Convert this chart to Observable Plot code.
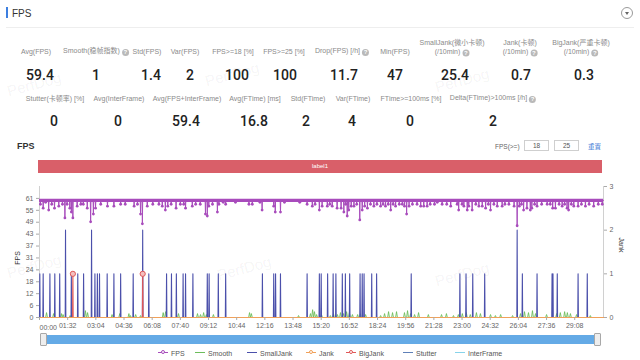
<!DOCTYPE html>
<html><head><meta charset="utf-8">
<script src="https://cdn.jsdelivr.net/npm/d3@7"></script>
<script src="https://cdn.jsdelivr.net/npm/@observablehq/plot@0.6"></script>
<style>
body{margin:0;background:#fff;}
#root{position:relative;width:640px;height:360px;overflow:hidden;font-family:"Liberation Sans","Noto Sans CJK SC",sans-serif;}
.abs{position:absolute;white-space:nowrap;}
.c{transform:translate(-50%,-50%);text-align:center;}
.lm{transform:translate(0,-50%);}
.lab{font-size:7px;color:#8a8a8a;line-height:9px;}
.val{font-size:14px;color:#222;font-family:Roboto,"Liberation Sans",sans-serif;font-weight:500;}
.help{display:inline-block;width:7px;height:7px;border-radius:50%;background:#b9b9b9;color:#fff;font-size:6px;line-height:7px;text-align:center;vertical-align:-1px;margin-left:2px;font-weight:bold;}
.wm{font-size:15px;color:rgba(0,0,0,0.055);transform:translate(-50%,-50%) rotate(-15deg);}
</style></head><body><div id="root"></div>
<script>
// ---------- data ----------
const statLabels1 = ["Avg(FPS)","Smooth(稳帧指数)","Std(FPS)","Var(FPS)","FPS>=18 [%]","FPS>=25 [%]","Drop(FPS) [/h]","Min(FPS)","SmallJank(微小卡顿)|(/10min)","Jank(卡顿)|(/10min)","BigJank(严重卡顿)|(/10min)"];
const statHelp1 = [false,true,false,false,false,false,true,false,true,true,true];
const statValues1 = ["59.4","1","1.4","2","100","100","11.7","47","25.4","0.7","0.3"];
const statLabels2 = ["Stutter(卡顿率) [%]","Avg(InterFrame)","Avg(FPS+InterFrame)","Avg(FTime) [ms]","Std(FTime)","Var(FTime)","FTime>=100ms [%]","Delta(FTime)>100ms [/h]"];
const statHelp2 = [false,false,false,false,false,false,false,true];
const statValues2 = ["0","0","59.4","16.8","2","4","0","2"];

const timeTickLabels = ["00:00","01:32","03:04","04:36","06:08","07:40","09:12","10:44","12:16","13:48","15:20","16:52","18:24","19:56","21:28","23:00","24:32","26:04","27:36","29:08"];
const duration = 1842; // seconds
const fpsTickLabels = [0,6,12,18,24,31,37,43,49,55,61];
const fpsTickStep = 6.1;
const jankTickLabels = [0,1,2,3];
const fpsBase = 60;

// FPS dips below the ~60 band: [second, fps]
const fpsDips = [[3,58],[12,56],[20,59],[30,55],[40,58],[49,56],[63,57],[75,58],[83,51],[90,58],[99,56],[104,54],[109,51],[123,57],[135,58],[143,58],[156,56],[167,49],[176,53],[183,56],[200,58],[222,57],[243,57],[265,58],[280,58],[309,57],[320,58],[330,53],[336,48],[352,57],[370,58],[390,58],[401,57],[411,55],[419,57],[430,58],[446,56],[460,58],[471,58],[477,56],[499,57],[510,58],[525,58],[542,53],[548,52],[553,57],[565,58],[581,54],[586,58],[600,59],[608,58],[640,59],[684,58],[695,58],[720,59],[727,55],[765,57],[770,54],[787,54],[800,59],[850,59],[874,58],[891,57],[900,58],[914,55],[923,57],[940,57],[948,58],[956,57],[972,56],[985,56],[994,54],[1000,58],[1005,52],[1010,55],[1018,57],[1027,57],[1036,58],[1046,50],[1054,55],[1062,57],[1071,56],[1081,58],[1092,57],[1102,58],[1114,57],[1122,58],[1130,57],[1139,58],[1147,55],[1155,58],[1163,57],[1175,58],[1185,58],[1192,57],[1199,53],[1207,57],[1218,58],[1233,58],[1245,57],[1255,57],[1266,57],[1276,58],[1290,58],[1299,59],[1315,58],[1330,58],[1343,57],[1364,58],[1369,55],[1380,58],[1386,57],[1397,55],[1402,57],[1413,55],[1425,58],[1435,57],[1446,57],[1457,56],[1466,58],[1473,55],[1484,58],[1495,57],[1511,57],[1520,58],[1533,58],[1550,57],[1560,47],[1567,57],[1574,58],[1581,55],[1592,56],[1603,55],[1608,56],[1617,58],[1625,57],[1640,58],[1658,58],[1668,58],[1676,56],[1685,56],[1697,58],[1707,57],[1715,58],[1723,56],[1728,55],[1737,58],[1745,57],[1759,57],[1770,58],[1783,57],[1795,58],[1810,57],[1825,58],[1838,58]];

// Smooth bumps: [second, value]
const smooth = [[23,2.5],[46,2],[72,2],[77,1.5],[100,1],[150,3.5],[157,2.5],[237,1.5],[262,2],[292,2],[297,1],[314,1.5],[330,1],[404,2.5],[412,3],[454,2],[516,2],[526,1.5],[536,2.5],[545,1.5],[568,1.5],[686,2.5],[692,2],[846,1],[885,2],[892,4],[898,3],[905,1.5],[921,1.5],[950,1],[960,2],[973,1.5],[983,2.5],[993,2],[1003,3],[1012,2.5],[1022,1.5],[1039,1.5],[1048,2],[1065,1.5],[1114,1],[1127,2],[1140,3],[1153,2.5],[1166,3],[1192,2.5],[1202,3.5],[1212,2],[1225,1.5],[1238,2.5],[1270,1.5],[1313,1.5],[1329,2],[1352,1],[1368,1.5],[1381,2],[1394,2.5],[1407,1.5],[1427,2.5],[1440,2],[1473,1.5],[1489,1],[1506,1.5],[1545,1],[1571,2],[1584,3],[1597,2.5],[1610,3.5],[1620,2],[1656,1.5],[1689,2],[1701,2.5],[1715,3],[1724,2.5],[1734,2],[1754,1.5],[1799,1]];

// SmallJank events: [second, count]
const smallJank = [[1,1],[12,1],[34,1],[50,1],[66,1],[85,2],[104,1],[125,1],[144,1],[170,2],[181,1],[189,1],[196,1],[221,1],[243,1],[265,1],[306,1],[337,2],[357,1],[415,1],[431,1],[447,1],[469,1],[477,1],[501,1],[548,1],[554,1],[584,1],[608,1],[728,1],[765,1],[771,1],[787,1],[874,1],[914,1],[920,1],[941,1],[959,1],[968,1],[989,1],[999,1],[1013,1],[1047,1],[1054,1],[1060,1],[1085,1],[1101,1],[1214,1],[1373,1],[1393,1],[1415,1],[1454,1],[1560,2],[1577,1],[1625,1],[1674,1],[1677,1],[1691,1],[1759,1],[1789,1]];
const bigJank = [[109,1],[337,1]];
const jank = [];

const seriesNames = ["FPS","Smooth","SmallJank","Jank","BigJank","Stutter","InterFrame"];
const seriesColors = ["#a84cbc","#6dbd5b","#4b50ab","#f0a15a","#e05858","#5f80b8","#86d3ea"];
const seriesMarker = [true,false,false,true,true,false,false];

// ---------- layout ----------
const root = document.getElementById("root");
function put(html, x, y, cls) {
  const d = document.createElement("div");
  d.className = "abs " + cls;
  d.style.left = x + "px"; d.style.top = y + "px";
  d.innerHTML = html; root.appendChild(d); return d;
}
function box(x, y, w, h, css) {
  const d = document.createElement("div");
  d.style.cssText = `position:absolute;left:${x}px;top:${y}px;width:${w}px;height:${h}px;` + css;
  root.appendChild(d); return d;
}
// watermarks
[[34,84],[232,74],[462,80],[34,266],[244,268],[462,274]].forEach(([x,y]) => put("PerfDog", x, y, "wm"));

// header
box(6, 7, 2, 11, "background:#3d7fe0;");
put("FPS", 12, 12.5, "lm").style.cssText += "font-size:10px;color:#333;";
box(621, 6.5, 12, 12, "border:1px solid #9a9a9a;border-radius:50%;box-sizing:border-box;");
box(624.5, 11.5, 0, 0, "border-left:2.5px solid transparent;border-right:2.5px solid transparent;border-top:3px solid #666;");
box(6, 27, 628, 1, "background:#eeeeee;");

const help = '<span class="help">?</span>';
const lab1X = [36, 96, 147, 185, 233, 284, 342, 395, 452, 520, 581];
const val1X = [40, 96, 151, 190, 237, 285, 344, 395, 455, 521, 584];
statLabels1.forEach((s, i) => {
  const parts = s.split("|");
  const html = parts.length > 1 ? parts[0] + "<br>" + parts[1] + (statHelp1[i] ? help : "") : s + (statHelp1[i] ? help : "");
  put(html, lab1X[i], parts.length > 1 ? 46.5 : 51, "lab c");
  put(statValues1[i], val1X[i], 75, "val c");
});
const lab2X = [55, 119, 187, 255, 308, 353, 411, 493];
const val2X = [54, 118, 186, 254, 306, 352, 410, 493];
statLabels2.forEach((s, i) => {
  put(s + (statHelp2[i] ? help : ""), lab2X[i], 98, "lab c");
  put(statValues2[i], val2X[i], 121, "val c");
});

// chart header row
put("FPS", 17, 146, "lm").style.cssText += "font-size:9px;color:#333;font-weight:bold;";
put("FPS(>=)", 495, 145.5, "lm").style.cssText += "font-size:6.5px;color:#666;";
[["18",524],["25",554]].forEach(([t,x]) => {
  const b = box(x, 140, 25, 11, "border:1px solid #cfcfcf;box-sizing:border-box;font-size:6.5px;color:#555;text-align:center;line-height:9px;");
  b.textContent = t;
});
put("重置", 588, 145.5, "lm").style.cssText += "font-size:6.5px;color:#4a7fd8;";
const lb = box(38, 160, 564, 13, "background:#d95f69;color:#fff;font-size:6px;text-align:center;line-height:13px;");
lb.textContent = "label1";

// ---------- chart ----------
const yMax = fpsTickLabels[fpsTickLabels.length - 1] + fpsTickStep;
const J = yMax / jankTickLabels[jankTickLabels.length - 1];
const toSec = s => { const [m, ss] = s.split(":").map(Number); return m * 60 + ss; };
const tickSecs = timeTickLabels.map(toSec);
function spikes(events, base, half, scale) {
  const pts = [[0, base]];
  for (const [t, v] of events) pts.push([t - half, base], [t, v * scale], [t + half, base]);
  pts.push([duration, base]);
  return pts.sort((a, b) => a[0] - b[0]);
}
const fpsLine = spikes(fpsDips, fpsBase, 1, 1);
const smoothLine = spikes(smooth, 0, 3, 1);
const smallJankLine = spikes(smallJank, 0, 1, J);
const bigJankLine = spikes(bigJank, 0, 1, J);
const jankLine = spikes(jank, 0, 1, J);
const X = d => d[0], Y = d => d[1];
const C = Object.fromEntries(seriesNames.map((n, i) => [n, seriesColors[i]]));

const svg = Plot.plot({
  width: 640, height: 152,
  marginLeft: 39, marginRight: 37, marginTop: 6, marginBottom: 15,
  style: {fontFamily: "Liberation Sans, sans-serif", fontSize: "7px", color: "#666", background: "transparent", overflow: "visible"},
  x: {domain: [0, duration]},
  y: {domain: [0, yMax]},
  marks: [
    Plot.ruleX([0, duration], {stroke: "#d0d0d0"}),
    Plot.ruleY([fpsBase], {stroke: C.FPS, strokeWidth: 3.4}),
    Plot.line(fpsLine, {x: X, y: Y, stroke: C.FPS, strokeWidth: 1}),
    Plot.dot(fpsDips, {x: X, y: Y, r: 1.4, fill: C.FPS}),
    Plot.line(smoothLine, {x: X, y: Y, stroke: C.Smooth, strokeWidth: 0.9}),
    Plot.line(smallJankLine, {x: X, y: Y, stroke: C.SmallJank, strokeWidth: 1.1}),
    Plot.line(bigJankLine, {x: X, y: Y, stroke: C.BigJank, strokeWidth: 1.1}),
    Plot.dot(bigJank, {x: X, y: d => d[1] * J, r: 2.6, stroke: C.BigJank, fill: "#f3c0c0", strokeWidth: 1}),
    Plot.line(jankLine, {x: X, y: Y, stroke: C.Jank, strokeWidth: 1.2}),
    Plot.axisY(fpsTickLabels.map((_, i) => i * fpsTickStep), {anchor: "left", tickSize: 3, tickPadding: 3, stroke: "#aaa", fill: "#666", fontSize: 7, label: null,
      tickFormat: d => String(fpsTickLabels[Math.round(d / fpsTickStep)])}),
    Plot.axisY(jankTickLabels.map(k => k * J), {anchor: "right", tickSize: 3, tickPadding: 3, stroke: "#aaa", fill: "#666", fontSize: 7, label: null,
      tickFormat: d => String(jankTickLabels[Math.round(d / J)])}),
    Plot.axisX(tickSecs, {anchor: "bottom", tickSize: 3, tickPadding: 3, stroke: "#aaa", fill: "#666", fontSize: 7, label: null,
      tickFormat: d => d === 0 ? "" : timeTickLabels[tickSecs.indexOf(d)]}),
    Plot.text([timeTickLabels[0]], {x: () => 0, y: () => 0, text: d => d, dy: 10, textAnchor: "start", fill: "#666", fontSize: 7})
  ]
});
svg.style.position = "absolute"; svg.style.left = "0px"; svg.style.top = "180px";
root.appendChild(svg);

// axis titles
put("FPS", 17, 258, "c").style.cssText += "font-size:7px;color:#333;transform:translate(-50%,-50%) rotate(-90deg);";
put("Jank", 621, 245, "c").style.cssText += "font-size:7px;color:#333;transform:translate(-50%,-50%) rotate(90deg);";

// data zoom slider
box(40, 335, 561, 9, "background:#64aae6;");
[40, 594].forEach(x => box(x, 333, 7, 13, "background:#eeeeee;border:1px solid #a8a8a8;box-sizing:border-box;border-radius:1px;"));

// legend
const legX = [158, 195, 247, 306, 346, 403, 455];
seriesNames.forEach((n, i) => {
  const c = seriesColors[i];
  box(legX[i], 351.5, 10, 1.5, `background:${c};`);
  if (seriesMarker[i]) box(legX[i] + 3, 350, 4, 4, `border:1px solid ${c};background:#fff;border-radius:50%;box-sizing:border-box;`);
  put(n, legX[i] + 13, 352.5, "lm").style.cssText += "font-size:7px;color:#555;";
});
</script></body></html>
